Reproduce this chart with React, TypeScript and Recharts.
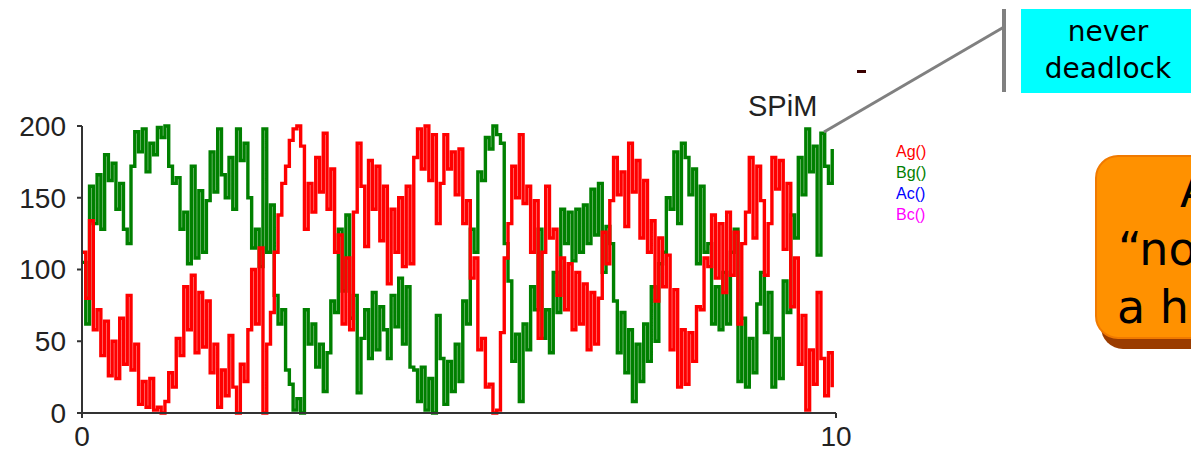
import React from 'react';
import { LineChart, Line, XAxis, YAxis } from 'recharts';

const STEP = 0.05;

const bgValues = [
  105, 62, 158, 132, 166, 128, 180, 162, 174, 142,
  160, 128, 118, 172, 196, 182, 198, 168, 188, 180,
  199, 192, 200, 172, 160, 164, 128, 140, 104, 172,
  108, 155, 112, 148, 182, 154, 198, 166, 150, 178,
  142, 198, 176, 188, 150, 115, 128, 102, 198, 112,
  145, 82, 62, 72, 30, 20, 2, 10, 0, 72,
  48, 62, 32, 48, 15, 42, 78, 70, 128, 85,
  138, 66, 82, 14, 52, 72, 38, 84, 44, 74,
  58, 38, 82, 60, 94, 48, 88, 32, 30, 8,
  32, 2, 24, 0, 68, 38, 6, 36, 15, 48,
  22, 78, 62, 128, 112, 168, 162, 192, 184, 200,
  194, 188, 118, 92, 36, 55, 8, 62, 44, 88,
  72, 128, 52, 72, 42, 98, 70, 142, 118, 140,
  106, 142, 112, 145, 118, 156, 124, 160, 98, 130,
  118, 78, 42, 70, 28, 58, 8, 48, 22, 62,
  36, 88, 50, 104, 112, 150, 142, 182, 132, 188,
  178, 152, 170, 104, 158, 112, 118, 62, 88, 58,
  98, 62, 112, 128, 22, 66, 18, 52, 28, 76,
  98, 56, 84, 18, 52, 24, 92, 70, 138, 122,
  178, 152, 198, 168, 186, 110, 195, 172, 160, 184,
];

// Ag() (red)
const agValues = [
  112, 80, 134, 58, 72, 40, 64, 26, 50, 24,
  66, 34, 82, 30, 48, 6, 22, 4, 24, 2,
  4, 0, 8, 28, 18, 52, 40, 88, 58, 96,
  42, 84, 46, 78, 28, 48, 4, 30, 12, 54,
  18, 0, 34, 22, 58, 100, 62, 115, 0, 48,
  70, 112, 138, 160, 172, 190, 198, 200, 186, 128,
  160, 140, 178, 154, 195, 142, 170, 112, 124, 62,
  108, 58, 140, 188, 158, 116, 176, 142, 172, 120,
  158, 90, 142, 112, 150, 102, 158, 104, 178, 198,
  170, 200, 162, 194, 132, 160, 194, 170, 182, 152,
  184, 132, 148, 94, 108, 44, 52, 18, 20, 0,
  2, 56, 108, 132, 172, 150, 194, 146, 158, 112,
  148, 52, 112, 158, 122, 128, 82, 108, 72, 104,
  58, 98, 62, 90, 44, 84, 48, 80, 126, 104,
  148, 178, 152, 168, 130, 188, 154, 176, 122, 162,
  112, 134, 78, 122, 88, 110, 44, 86, 18, 58,
  20, 56, 36, 74, 72, 108, 102, 138, 94, 132,
  84, 140, 96, 126, 62, 118, 140, 178, 122, 172,
  148, 96, 132, 178, 156, 176, 114, 160, 74, 108,
  34, 68, 2, 44, 20, 84, 38, 12, 42, 18,
];

const xTicks = [0, 10];
const yTicks = [0, 50, 100, 150, 200];
const legendNames = ['Ag()', 'Bg()', 'Ac()', 'Bc()'];
const legendColors = ['#ff0000', '#008000', '#0000ff', '#ff00ff'];

const data = agValues.map((ag, i) => ({
  t: Math.round(i * STEP * 100) / 100,
  Ag: ag,
  Bg: bgValues[i],
}));

export default function App() {
  const tickStyle = { fontFamily: '"Liberation Sans", Arial, sans-serif', fontSize: 28, fill: '#222' };
  return (
    <div style={{ position: 'absolute', left: 0, top: 0, width: 1191, height: 456, overflow: 'hidden', background: '#fff' }}>
      <LineChart
        width={1191}
        height={456}
        data={data}
        margin={{ top: 126, right: 355, bottom: 3, left: 0 }}
      >
        <XAxis
          dataKey="t"
          type="number"
          domain={[0, 10]}
          ticks={xTicks}
          tickSize={5}
          tickMargin={8}
          height={40}
          stroke="#333"
          strokeWidth={2}
          tick={tickStyle}
          interval={0}
        />
        <YAxis
          type="number"
          domain={[0, 200]}
          ticks={yTicks}
          tickSize={5}
          tickMargin={11}
          width={82}
          stroke="#333"
          strokeWidth={2}
          tick={tickStyle}
          interval={0}
        />
        <Line dataKey="Bg" type="stepAfter" stroke="#008000" strokeWidth={3.4} dot={false} isAnimationActive={false} />
        <Line dataKey="Ag" type="stepAfter" stroke="#ff0000" strokeWidth={3.4} dot={false} isAnimationActive={false} />
      </LineChart>

      <div style={{ position: 'absolute', left: 896, top: 141, fontFamily: '"Liberation Sans", Arial, sans-serif', fontSize: 16, lineHeight: '21px' }}>
        {legendNames.map((n, i) => (
          <div key={n} style={{ color: legendColors[i] }}>{n}</div>
        ))}
      </div>

      <svg width={1191} height={456} style={{ position: 'absolute', left: 0, top: 0, pointerEvents: 'none' }}>
        <text x={748} y={116} fontFamily='"Liberation Sans", Arial, sans-serif' fontSize={29} fill="#222">SPiM</text>
        <rect x={857} y={70} width={9} height={3} fill="#3a0000" />
        <line x1={824} y1={132} x2={1004} y2={27} stroke="#808080" strokeWidth={3} />
        <line x1={1004} y1={9} x2={1004} y2={92} stroke="#808080" strokeWidth={4} />
        <rect x={1021} y={9} width={180} height={84} fill="#00ffff" />
        <text x={1108} y={41} textAnchor="middle" fontFamily='"DejaVu Sans", sans-serif' fontSize={28} fill="#000">never</text>
        <text x={1108} y={78} textAnchor="middle" fontFamily='"DejaVu Sans", sans-serif' fontSize={28} fill="#000">deadlock</text>
        <rect x={1101} y={165} width={140} height={184} rx={22} fill="#9a3c00" />
        <rect x={1096} y={156} width={140} height={182} rx={22} fill="#ff9100" stroke="#f07a00" strokeWidth={2} />
        <text x={1180} y={207} fontFamily='"DejaVu Sans", sans-serif' fontSize={46} fill="#000">A</text>
        <text x={1118} y={265} fontFamily='"DejaVu Sans", sans-serif' fontSize={46} fill="#000">“no</text>
        <text x={1117} y={323} fontFamily='"DejaVu Sans", sans-serif' fontSize={46} fill="#000">a hu</text>
      </svg>
    </div>
  );
}
